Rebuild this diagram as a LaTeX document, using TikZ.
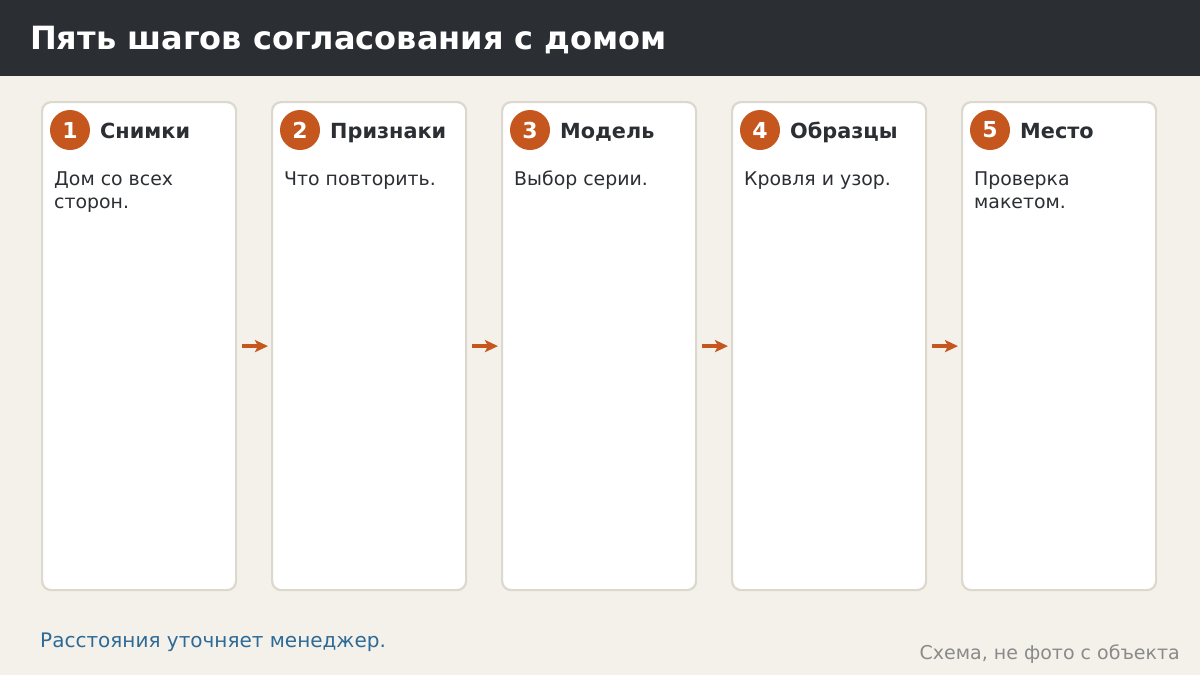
\documentclass[tikz,border=0pt]{standalone}
\usepackage{fontspec}
\setmainfont{DejaVu Sans}
\usetikzlibrary{arrows.meta}
\definecolor{bg}{HTML}{F4F1EB}
\definecolor{head}{HTML}{2B2E33}
\definecolor{cardline}{HTML}{DDD8CE}
\definecolor{accent}{HTML}{C4561E}
\definecolor{ink}{HTML}{2B2E33}
\definecolor{note}{HTML}{2E6A96}
\definecolor{muted}{HTML}{8A8A8A}
\tikzset{
  x=1pt, y=-1pt,
  card/.style={draw=cardline, line width=2.2pt, fill=white, rounded corners=9pt,
    minimum width=194pt, minimum height=488pt, inner sep=0pt, anchor=north west},
  badge/.style={circle, fill=accent, minimum size=40pt, inner sep=0pt,
    text=white, font=\fontsize{22}{26}\selectfont\bfseries},
  cardtitle/.style={anchor=base west, inner sep=0pt, text=ink,
    font=\fontsize{20.8}{25}\selectfont\bfseries},
  body/.style={anchor=base west, inner sep=0pt, text=ink,
    font=\fontsize{18.9}{23}\selectfont},
  flow/.style={draw=accent, line width=3.5pt,
    -{Stealth[length=13pt,width=12pt,inset=3pt]},
    shorten <=5pt, shorten >=3pt},
}
\newcommand{\lines}[1]{\begin{tabular}[t]{@{}l@{}}#1\end{tabular}}
\begin{document}
\begin{tikzpicture}
\path[use as bounding box, fill=bg] (0,0) rectangle (1200,675);
\fill[head] (0,0) rectangle (1200,76);
\node[anchor=base west, inner sep=0pt, text=white,
  font=\fontsize{32}{38}\selectfont\bfseries] (title) at (30,49)
  {Пять шагов согласования с домом};

\foreach \i/\t/\b [count=\k from 0] in {
  1/Снимки/{Дом со всех\\сторон.},
  2/Признаки/{Что повторить.},
  3/Модель/{Выбор серии.},
  4/Образцы/{Кровля и узор.},
  5/Место/{Проверка\\макетом.}} {
  \node[card] (c\i) at (41+230*\k,101) {};
  \node[badge] (n\i) at (70+230*\k,130) {\i};
  \node[cardtitle] (t\i) at (100+230*\k,138) {\t};
  \node[body] (b\i) at (54+230*\k,185) {\lines{\b}};
}
\foreach \a/\b in {1/2,2/3,3/4,4/5}
  \draw[flow] (c\a.east) -- (c\b.west);

\node[anchor=base west, inner sep=0pt, text=note,
  font=\fontsize{20}{24}\selectfont] (foot) at (40,647)
  {Расстояния уточняет менеджер.};
\node[anchor=base east, inner sep=0pt, text=muted,
  font=\fontsize{19}{23}\selectfont] (src) at (1180,659)
  {Схема, не фото с объекта};
\end{tikzpicture}
\end{document}
